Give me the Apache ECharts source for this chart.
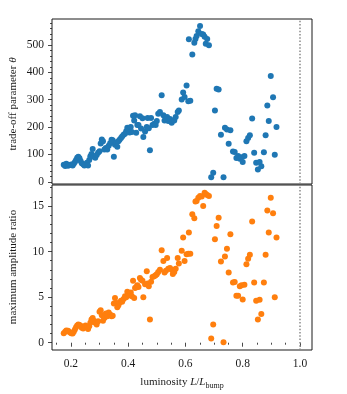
<!DOCTYPE html>
<html>
<head>
<meta charset="utf-8">
<script src="https://cdn.jsdelivr.net/npm/echarts@6/dist/echarts.min.js"></script>
<style>
  html, body { margin: 0; padding: 0; background: #fff; }
  #main { width: 347px; height: 394px; }
</style>
</head>
<body>
<div id="main"></div>
<script>
// luminosity L/L_bump of each model (same x for both panels)
var lum = [
  0.175,0.180,0.184,0.190,0.196,0.201,0.206,0.210,0.214,0.218,
  0.222,0.226,0.230,0.234,0.238,0.243,0.247,0.251,0.256,0.260,
  0.264,0.268,0.272,0.276,0.280,0.285,0.290,0.295,0.300,0.304,
  0.308,0.312,0.317,0.322,0.327,0.332,0.337,0.342,0.346,0.350,
  0.354,0.358,0.362,0.366,0.370,0.375,0.379,0.384,0.389,0.393,
  0.397,0.401,0.405,0.409,0.413,0.417,0.421,0.424,0.428,0.432,
  0.436,0.441,0.445,0.450,0.453,0.459,0.465,0.468,0.472,0.476,
  0.480,0.485,0.491,0.496,0.500,0.505,0.511,0.517,0.523,0.527,
  0.532,0.536,0.540,0.546,0.552,0.556,0.561,0.566,0.573,0.577,
  0.587,0.592,0.597,0.604,0.610,0.612,0.617,0.624,0.631,0.635,
  0.639,0.645,0.651,0.657,0.662,0.667,0.671,0.676,0.682,0.690,
  0.697,0.703,0.709,0.716,0.724,0.733,0.738,0.745,0.751,0.757,
  0.766,0.772,0.778,0.784,0.790,0.796,0.800,0.806,0.813,0.819,
  0.825,0.833,0.840,0.847,0.853,0.859,0.865,0.874,0.880,0.886,
  0.891,0.898,0.906,0.912,0.918
];
// trade-off parameter theta (top panel)
var theta = [
  62,58,66,59,61,63,60,66,72,80,
  88,92,86,76,68,64,60,62,70,60,
  80,93,102,120,92,88,98,106,112,140,
  155,148,118,124,118,132,141,154,152,92,
  135,144,128,148,154,160,166,172,176,185,
  198,190,180,200,182,241,224,243,179,208,
  208,240,195,232,164,184,200,233,196,115,
  233,208,212,208,222,249,255,316,243,224,
  230,237,222,230,216,224,224,237,255,261,
  301,326,310,352,294,521,296,465,508,522,
  533,550,569,540,538,530,505,522,499,17,
  33,261,340,337,172,17,198,191,139,188,
  111,109,87,94,84,90,72,94,148,160,
  170,231,106,70,45,72,57,108,170,279,
  222,387,309,99,200
];
// maximum amplitude ratio (bottom panel)
var ampRatio = [
  1.05,1.2,1.35,1.3,1.15,1.05,1.0,1.2,1.45,1.7,
  1.9,2.0,1.95,1.85,1.65,1.55,1.7,1.9,1.75,1.5,
  1.8,2.2,2.55,2.7,2.4,2.2,2.0,2.35,3.4,3.55,
  3.0,2.4,2.7,3.2,2.9,3.3,3.1,2.9,2.95,4.3,
  4.9,4.35,3.9,4.1,4.4,4.6,4.5,4.8,5.1,5.0,
  5.6,5.4,5.2,5.5,5.1,6.8,4.9,6.0,6.1,6.3,
  6.1,7.1,6.9,6.8,5.0,6.4,7.85,6.5,6.2,2.55,
  6.7,7.2,7.3,7.4,7.5,7.75,8.0,10.15,8.95,7.7,
  7.9,9.3,8.1,8.2,8.0,7.55,7.75,8.1,9.3,8.7,
  10.1,11.55,8.95,9.7,9.75,12.1,9.75,14.1,13.65,15.5,
  15.55,15.9,16.1,16.05,15.0,16.45,16.3,16.2,16.1,0.45,
  2.0,11.35,12.8,13.7,8.9,0.05,9.45,10.3,7.7,11.9,
  6.6,6.65,5.15,5.15,6.2,6.3,4.75,6.35,8.6,9.2,
  9.65,13.3,6.6,4.6,2.55,4.7,3.15,6.6,9.65,14.5,
  12.1,15.9,14.2,5.0,11.55
];

// tick labels
var xTicks = [0.2, 0.4, 0.6, 0.8, 1.0];
var thetaTicks = [0, 100, 200, 300, 400, 500];
var ratioTicks = [0, 5, 10, 15];
var L_BUMP = 1.0;

// minor ticks (matplotlib style)
var xMinor = [], thetaMinor = [], ratioMinor = [];
for (var i = 3; i <= 20; i++) { if (i % 4 != 0) xMinor.push(+(i * 0.05).toFixed(2)); }
for (var j = 20; j <= 580; j += 20) { if (j % 100 != 0) thetaMinor.push(j); }
for (var k = 1; k <= 17; k++) { if (k % 5 != 0) ratioMinor.push(k); }

var topData = [], botData = [];
for (var n = 0; n < lum.length; n++) {
  topData.push([lum[n], theta[n]]);
  botData.push([lum[n], ampRatio[n]]);
}

var FONT = 'Liberation Serif';
var INK = '#1a1a1a';
var labelStyle = { fontFamily: FONT, fontSize: 11.5, color: INK };

function majorTick(vals) {
  return { show: true, inside: false, length: 4, customValues: vals, lineStyle: { color: INK, width: 0.8 } };
}
function minorTick(vals) {
  return { show: true, inside: false, length: 2, customValues: vals, lineStyle: { color: INK, width: 0.8 } };
}

var bumpLine = {
  silent: true,
  symbol: 'none',
  label: { show: false },
  lineStyle: { color: '#8a8a8a', type: [1.5, 1.8], width: 1.5 },
  data: [{ xAxis: L_BUMP }]
};

var myChart = echarts.init(document.getElementById('main'));

var option = {
  animation: false,
  grid: [
    { left: 52, top: 19, width: 260, height: 165, show: true, borderColor: INK, borderWidth: 1, backgroundColor: 'transparent' },
    { left: 52, top: 185, width: 260, height: 165, show: true, borderColor: INK, borderWidth: 1, backgroundColor: 'transparent' }
  ],
  xAxis: [
    { gridIndex: 0, type: 'value', min: 0.134, max: 1.042, axisLine: { show: false }, axisTick: { show: false }, axisLabel: { show: false }, splitLine: { show: false } },
    { gridIndex: 1, type: 'value', min: 0.134, max: 1.042, position: 'bottom', axisLine: { show: false }, splitLine: { show: false },
      axisTick: majorTick(xTicks),
      axisLabel: Object.assign({ customValues: xTicks, margin: 8, formatter: function (v) { return v.toFixed(1); } }, labelStyle) },
    { gridIndex: 1, type: 'value', min: 0.134, max: 1.042, position: 'bottom', axisLine: { show: false }, splitLine: { show: false },
      axisTick: minorTick(xMinor), axisLabel: { show: false } }
  ],
  yAxis: [
    { gridIndex: 0, type: 'value', min: -8, max: 595, position: 'left', axisLine: { show: false }, splitLine: { show: false },
      axisTick: majorTick(thetaTicks),
      axisLabel: Object.assign({ customValues: thetaTicks, margin: 8 }, labelStyle) },
    { gridIndex: 0, type: 'value', min: -8, max: 595, position: 'left', axisLine: { show: false }, splitLine: { show: false },
      axisTick: minorTick(thetaMinor), axisLabel: { show: false } },
    { gridIndex: 1, type: 'value', min: -0.8, max: 17.3, position: 'left', axisLine: { show: false }, splitLine: { show: false },
      axisTick: majorTick(ratioTicks),
      axisLabel: Object.assign({ customValues: ratioTicks, margin: 8 }, labelStyle) },
    { gridIndex: 1, type: 'value', min: -0.8, max: 17.3, position: 'left', axisLine: { show: false }, splitLine: { show: false },
      axisTick: minorTick(ratioMinor), axisLabel: { show: false } }
  ],
  series: [
    { type: 'scatter', xAxisIndex: 0, yAxisIndex: 0, data: topData, symbolSize: 6,
      itemStyle: { color: '#1f77b4', opacity: 1 }, markLine: bumpLine },
    { type: 'scatter', xAxisIndex: 1, yAxisIndex: 2, data: botData, symbolSize: 6,
      itemStyle: { color: '#ff7f0e', opacity: 1 }, markLine: bumpLine }
  ],
  graphic: [
    { type: 'text', x: 13, y: 104, rotation: Math.PI / 2,
      style: { text: '{n|trade-off parameter }{i|θ}', align: 'center', verticalAlign: 'middle',
        rich: { n: { fontFamily: FONT, fontSize: 11, fill: INK }, i: { fontFamily: FONT, fontSize: 11, fontStyle: 'italic', fill: INK } } } },
    { type: 'text', x: 13, y: 267, rotation: Math.PI / 2,
      style: { text: 'maximum amplitude ratio', align: 'center', verticalAlign: 'middle', fontFamily: FONT, fontSize: 11, fill: INK } },
    { type: 'text', x: 182, y: 382,
      style: { text: '{n|luminosity }{i|L}{n|/}{i|L}{s|bump}', align: 'center', verticalAlign: 'middle',
        rich: {
          n: { fontFamily: FONT, fontSize: 11, fill: INK, lineHeight: 16, verticalAlign: 'middle' },
          i: { fontFamily: FONT, fontSize: 11, fontStyle: 'italic', fill: INK, lineHeight: 16, verticalAlign: 'middle' },
          s: { fontFamily: FONT, fontSize: 8, fill: INK, lineHeight: 16, verticalAlign: 'bottom' }
        } } }
  ]
};

myChart.setOption(option);
</script>
</body>
</html>
